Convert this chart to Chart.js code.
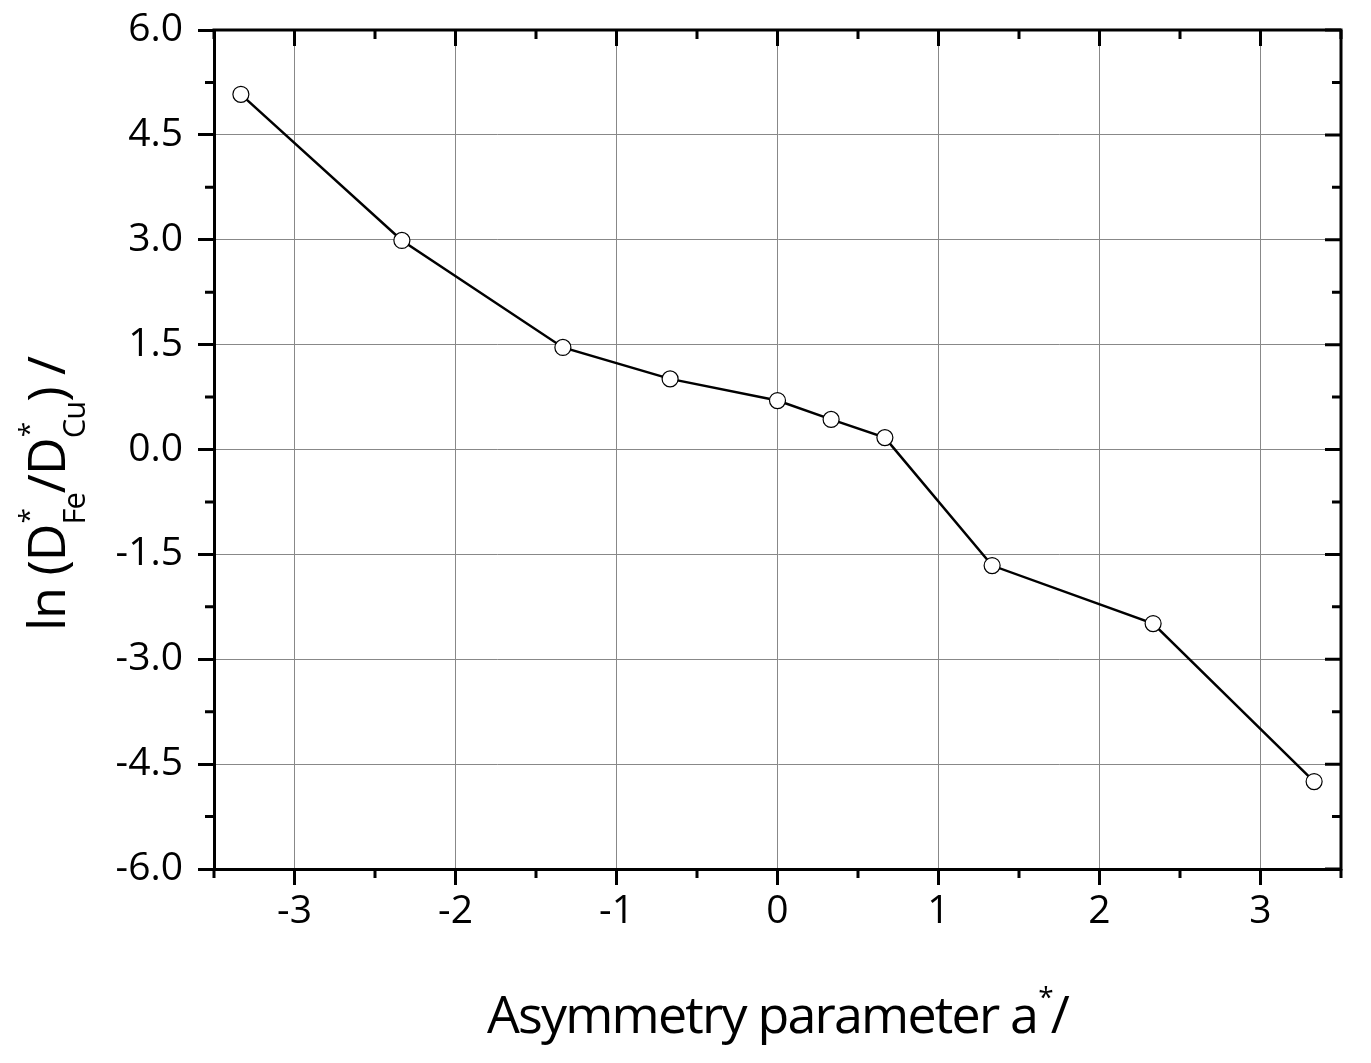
<!DOCTYPE html>
<html>
<head>
<meta charset="utf-8">
<script src="https://cdn.jsdelivr.net/npm/chart.js@4.4.0/dist/chart.umd.min.js"></script>
<style>
  html, body { margin: 0; padding: 0; background: #fff; }
  #wrap { width: 1371px; height: 1063px; }
</style>
</head>
<body>
<div id="wrap"><canvas id="lnChart" width="1371" height="1063"></canvas></div>
<script>
/*jshint esversion: 6 */

var xValues = [-3.333, -2.333, -1.333, -0.667, 0, 0.333, 0.667, 1.333, 2.333, 3.333];
var yValues = [5.08, 2.99, 1.46, 1.01, 0.70, 0.43, 0.17, -1.66, -2.49, -4.75];

var xTicks = [-3, -2, -1, 0, 1, 2, 3];
var yTicks = [-6.0, -4.5, -3.0, -1.5, 0.0, 1.5, 3.0, 4.5, 6.0];
var xMinorTicks = [-3.5, -2.5, -1.5, -0.5, 0.5, 1.5, 2.5, 3.5];
var yMinorTicks = [-5.25, -3.75, -2.25, -0.75, 0.75, 2.25, 3.75, 5.25];

var xTitle = [{t: 'Asymmetry parameter a'}, {sup: '*'}, {t: '/'}];
var yTitle = [{t: 'ln (D'}, {sup: '*', sub: 'Fe'}, {t: '/D'}, {sup: '*', sub: 'Cu'}, {t: ') /'}];

var FONT = "'Open Sans', sans-serif";
var MAIN = 52, SUP = 28, SUB = 31;

function partWidth(ctx, p) {
  if (p.t) {
    ctx.font = MAIN + 'px ' + FONT;
    return ctx.measureText(p.t).width;
  }
  ctx.font = SUP + 'px ' + FONT;
  var w1 = p.sup ? ctx.measureText(p.sup).width : 0;
  ctx.font = SUB + 'px ' + FONT;
  var w2 = p.sub ? ctx.measureText(p.sub).width : 0;
  return Math.max(w1, w2);
}

// draws text with stacked super/subscripts, centred on x=0, baseline y=0
function drawRich(ctx, parts, spacing) {
  ctx.letterSpacing = spacing + 'px';
  var total = 0;
  parts.forEach(function(p) { total += partWidth(ctx, p); });
  var x = -total / 2;
  ctx.fillStyle = '#000';
  ctx.textBaseline = 'alphabetic';
  ctx.textAlign = 'left';
  parts.forEach(function(p) {
    var w = partWidth(ctx, p);
    if (p.t) {
      ctx.font = MAIN + 'px ' + FONT;
      ctx.fillText(p.t, x, 0);
    } else {
      if (p.sup) {
        ctx.font = SUP + 'px ' + FONT;
        ctx.fillText(p.sup, x + 1, -26);
      }
      if (p.sub) {
        ctx.font = SUB + 'px ' + FONT;
        ctx.fillText(p.sub, x, 20);
      }
    }
    x += w;
  });
  ctx.letterSpacing = '0px';
}

function line(ctx, x1, y1, x2, y2) {
  ctx.moveTo(x1, y1);
  ctx.lineTo(x2, y2);
}

var framePlugin = {
  id: 'frame',
  afterDraw: function(chart) {
    var ctx = chart.ctx;
    var a = chart.chartArea;
    var xs = chart.scales.x;
    var ys = chart.scales.y;

    ctx.save();
    ctx.strokeStyle = '#000';
    ctx.lineWidth = 3;
    ctx.beginPath();
    line(ctx, a.left - 1.5, a.top, a.right + 1.5, a.top);
    line(ctx, a.right, a.top, a.right, a.bottom + 1.5);
    ctx.stroke();

    ctx.beginPath();
    xTicks.forEach(function(v) {
      var px = xs.getPixelForValue(v);
      line(ctx, px, a.top, px, a.top + 16);
    });
    yTicks.forEach(function(v) {
      var py = ys.getPixelForValue(v);
      line(ctx, a.right - 16, py, a.right, py);
    });
    xMinorTicks.forEach(function(v) {
      var px = xs.getPixelForValue(v);
      line(ctx, px, a.bottom, px, a.bottom + 9);
      line(ctx, px, a.top, px, a.top + 9);
    });
    yMinorTicks.forEach(function(v) {
      var py = ys.getPixelForValue(v);
      line(ctx, a.left - 9, py, a.left, py);
      line(ctx, a.right - 9, py, a.right, py);
    });
    ctx.stroke();

    // axis titles
    ctx.save();
    ctx.translate((a.left + a.right) / 2, 1033);
    drawRich(ctx, xTitle, -1.8);
    ctx.restore();

    ctx.save();
    ctx.translate(65, 494);
    ctx.rotate(-Math.PI / 2);
    drawRich(ctx, yTitle, -1);
    ctx.restore();

    ctx.restore();
  }
};

Chart.defaults.font.family = FONT;
Chart.defaults.color = '#000';

var chartCtx = document.getElementById('lnChart').getContext('2d');
var lnChart = new Chart(chartCtx, {
  type: 'line',
  data: {
    datasets: [{
      data: xValues.map(function(x, i) { return {x: x, y: yValues[i]}; }),
      borderColor: '#000',
      borderWidth: 2.5,
      pointRadius: 8,
      pointBorderWidth: 1.2,
      pointBackgroundColor: '#fff',
      pointBorderColor: '#000',
      tension: 0
    }]
  },
  options: {
    responsive: false,
    animation: false,
    layout: {
      padding: {left: 0, top: 30, right: 30, bottom: 0}
    },
    plugins: {
      legend: {display: false},
      tooltip: {enabled: false}
    },
    scales: {
      x: {
        type: 'linear',
        min: -3.5,
        max: 3.5,
        afterBuildTicks: function(scale) {
          scale.ticks = xTicks.map(function(v) { return {value: v}; });
        },
        afterFit: function(scale) {
          scale.height = 194;
          scale.paddingLeft = 0;
          scale.paddingRight = 0;
        },
        ticks: {
          font: {size: 39},
          padding: 3,
          maxRotation: 0,
          callback: function(v) { return String(v); }
        },
        grid: {
          color: '#888',
          lineWidth: 1,
          tickLength: 16,
          tickWidth: 3,
          tickColor: '#000'
        },
        border: {display: true, color: '#000', width: 3}
      },
      y: {
        type: 'linear',
        min: -6,
        max: 6,
        afterBuildTicks: function(scale) {
          scale.ticks = yTicks.map(function(v) { return {value: v}; });
        },
        afterFit: function(scale) {
          scale.width = 214;
          scale.paddingTop = 0;
          scale.paddingBottom = 0;
        },
        ticks: {
          font: {size: 39},
          padding: 15,
          callback: function(v) { return v.toFixed(1); }
        },
        grid: {
          color: '#888',
          lineWidth: 1,
          tickLength: 16,
          tickWidth: 3,
          tickColor: '#000'
        },
        border: {display: true, color: '#000', width: 3}
      }
    }
  },
  plugins: [framePlugin]
});
</script>
</body>
</html>
